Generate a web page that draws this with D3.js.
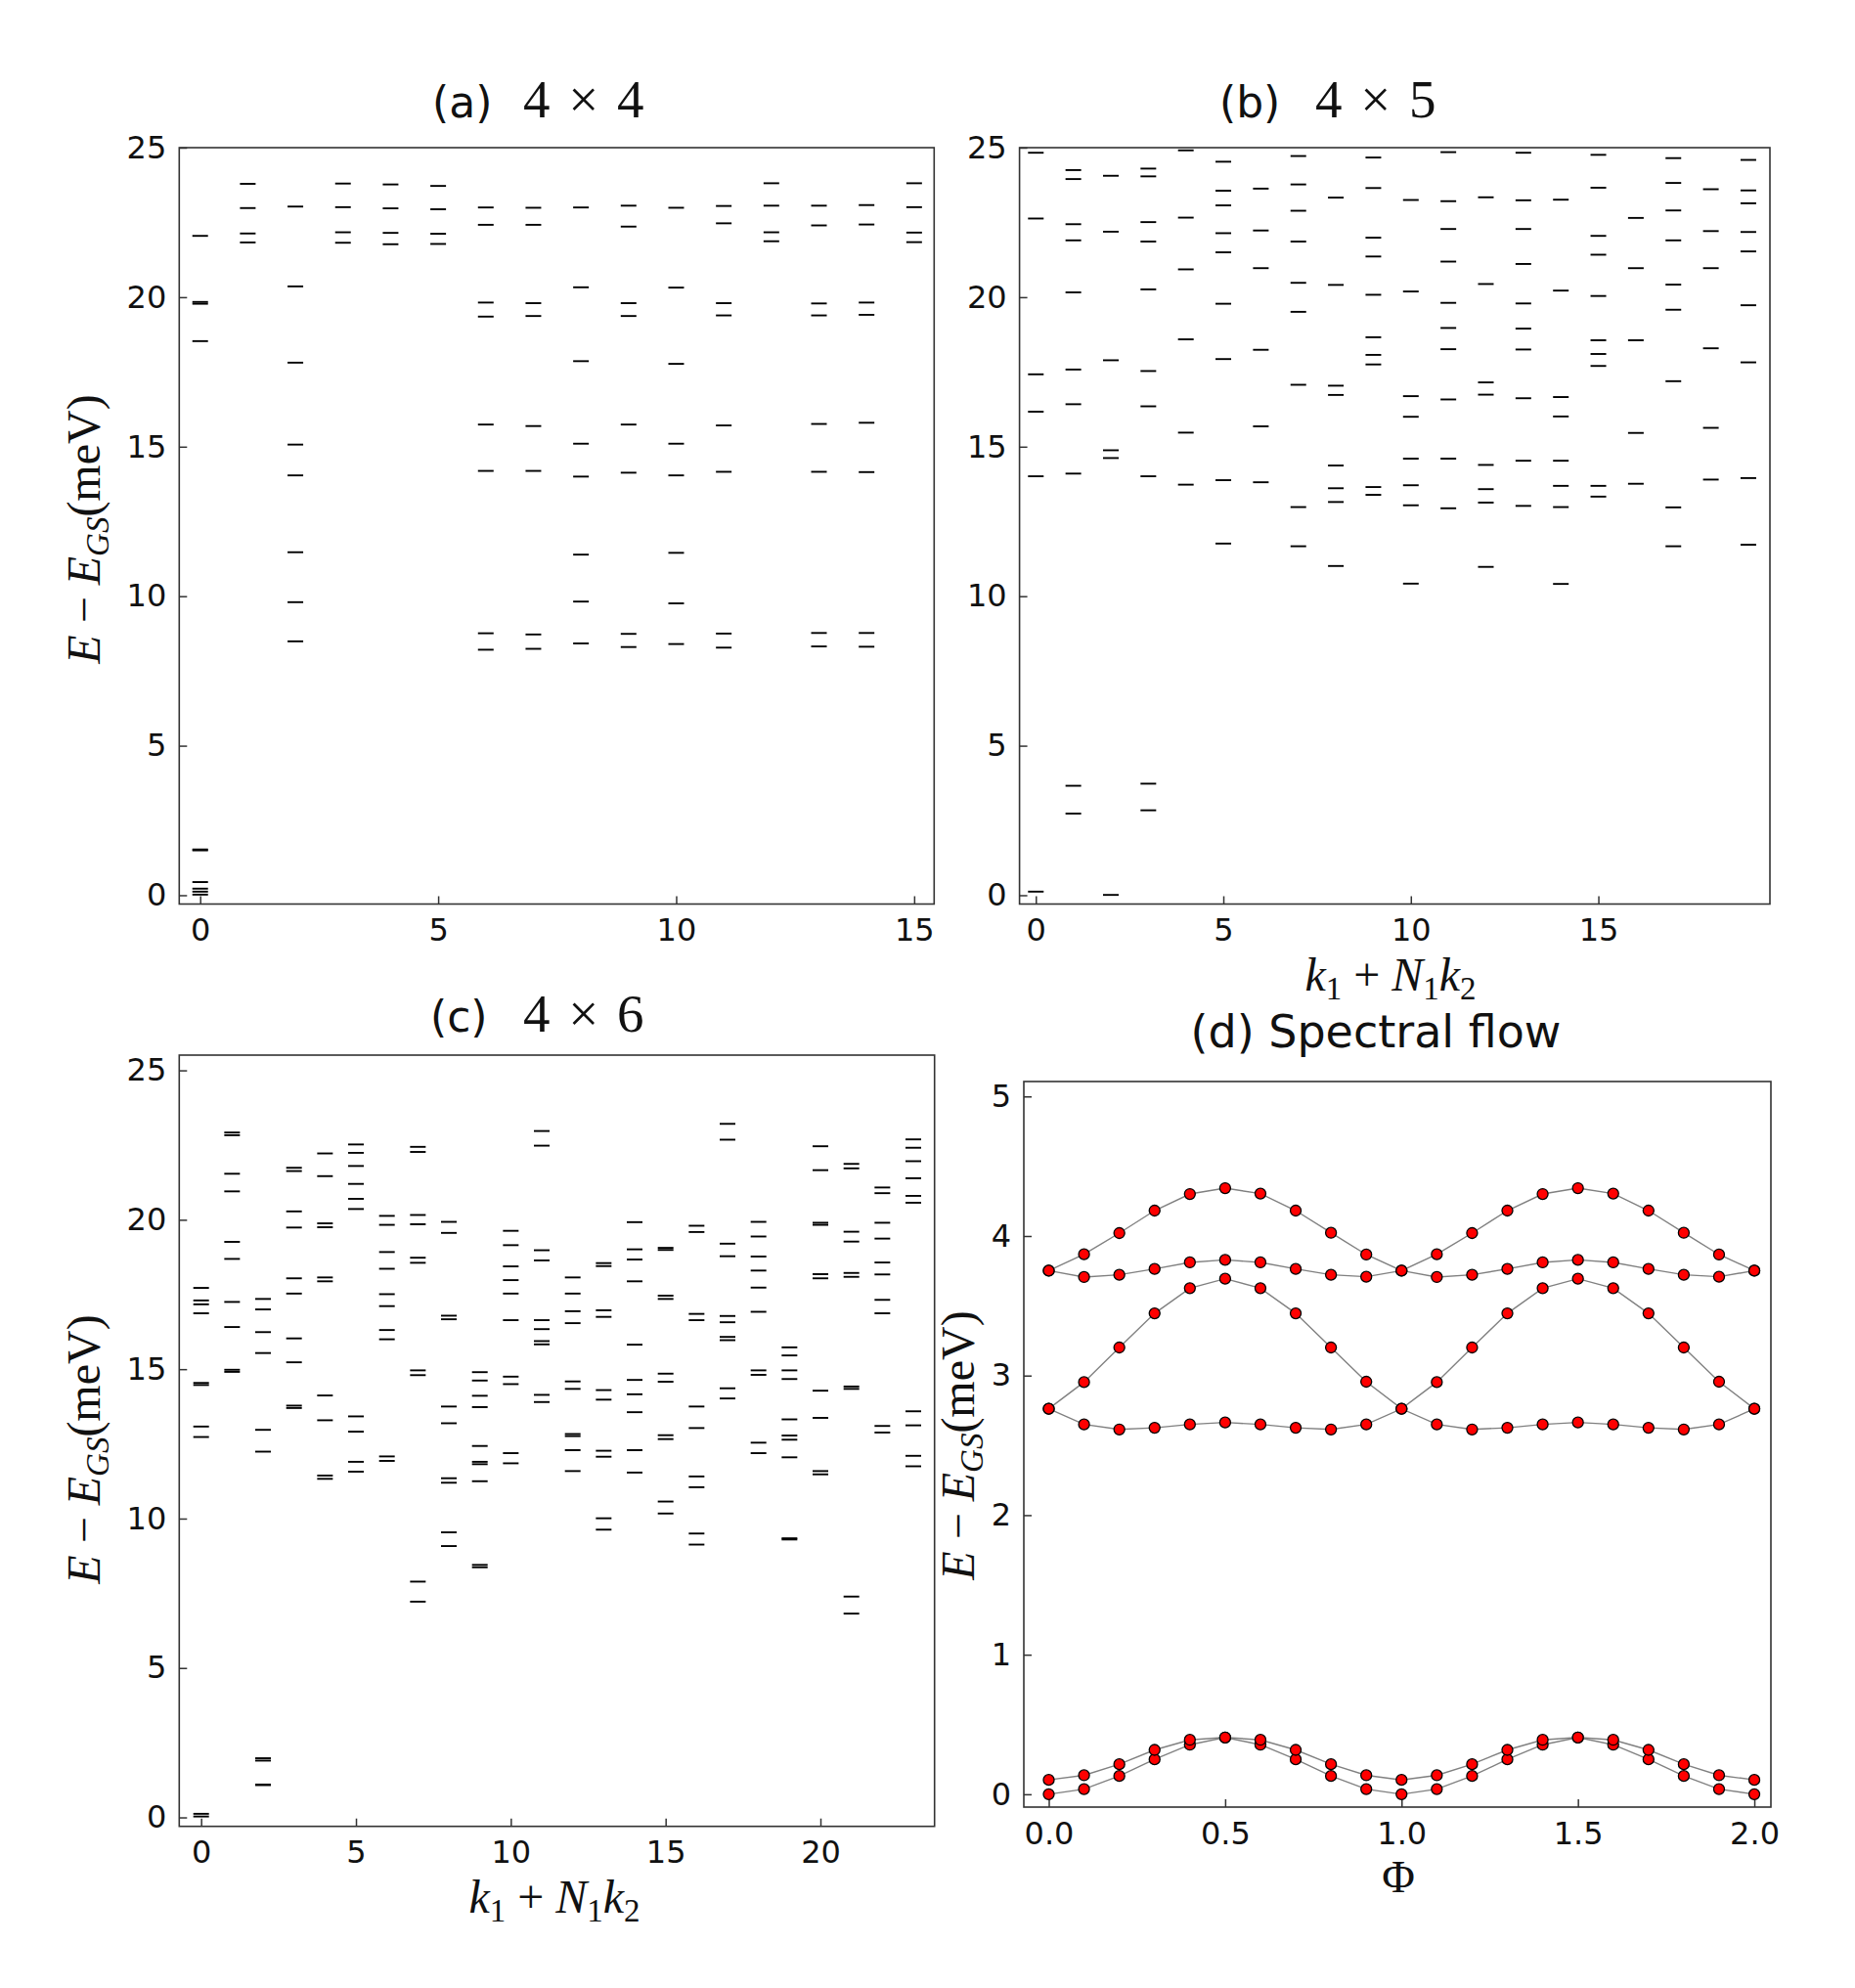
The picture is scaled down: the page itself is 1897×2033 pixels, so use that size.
<!DOCTYPE html>
<html><head><meta charset="utf-8">
<script src="https://cdn.jsdelivr.net/npm/d3@7"></script>
<style>body{margin:0;background:#fff} svg{display:block}</style>
</head><body>
<svg id="fig" width="1897" height="2033"></svg>
<script>
// ---------------- DATA ----------------
// (a) 4x4 : energy levels per momentum sector k = 0..15
const levelsA = [
  [0.02, 0.12, 0.22, 0.44, 1.50, 1.53, 18.53, 19.78, 19.84, 22.05],
  [21.83, 22.13, 22.98, 23.79],
  [8.49, 9.80, 11.47, 14.04, 15.07, 17.81, 20.36, 23.03],
  [21.82, 22.17, 23.01, 23.80],
  [21.77, 22.15, 22.97, 23.77],
  [21.78, 22.12, 22.94, 23.72],
  [8.21, 8.76, 14.19, 15.74, 19.35, 19.82, 22.42, 23.00],
  [8.24, 8.72, 14.19, 15.69, 19.37, 19.80, 22.42, 22.99],
  [8.42, 9.82, 11.39, 14.00, 15.10, 17.86, 20.33, 23.00],
  [8.30, 8.74, 14.13, 15.74, 19.37, 19.80, 22.36, 23.06],
  [8.40, 9.76, 11.45, 14.04, 15.10, 17.77, 20.32, 22.99],
  [8.28, 8.75, 14.16, 15.71, 19.39, 19.80, 22.47, 23.05],
  [21.87, 22.17, 23.06, 23.81],
  [8.32, 8.77, 14.16, 15.76, 19.39, 19.79, 22.40, 23.06],
  [8.31, 8.77, 14.15, 15.80, 19.41, 19.82, 22.43, 23.08],
  [21.84, 22.16, 23.01, 23.81]
];
// (b) 4x5 : k = 0..19
const levelsB = [
  [0.12, 14.01, 16.17, 17.42, 22.63, 24.83],
  [2.73, 3.66, 14.10, 16.42, 17.58, 20.16, 21.90, 22.44, 23.95, 24.25],
  [0.01, 14.62, 14.88, 17.89, 22.19, 24.06],
  [2.84, 3.73, 14.01, 16.35, 17.53, 20.26, 21.86, 22.51, 24.04, 24.30],
  [13.73, 15.47, 18.59, 20.93, 22.66, 24.91],
  [11.76, 13.88, 17.93, 19.78, 21.50, 22.14, 23.07, 23.56, 24.53],
  [13.81, 15.68, 18.24, 20.97, 22.23, 23.63],
  [11.67, 12.98, 17.07, 19.51, 20.48, 21.86, 22.89, 23.77, 24.72],
  [11.01, 13.15, 13.61, 14.37, 16.73, 17.04, 20.41, 23.33],
  [13.39, 13.65, 17.75, 18.07, 18.66, 20.08, 21.36, 21.99, 23.65, 24.67],
  [10.42, 13.04, 13.71, 14.60, 16.00, 16.69, 20.19, 23.25],
  [12.94, 14.60, 16.58, 18.26, 18.97, 19.81, 21.19, 22.28, 23.21, 24.85],
  [10.98, 13.13, 13.58, 14.39, 16.74, 17.15, 20.44, 23.34],
  [13.02, 14.53, 16.62, 18.25, 18.95, 19.79, 21.11, 22.28, 23.24, 24.83],
  [10.41, 12.98, 13.69, 14.53, 16.01, 16.66, 20.22, 23.26],
  [13.33, 13.69, 17.70, 18.10, 18.56, 20.04, 21.42, 22.05, 23.66, 24.76],
  [13.76, 15.46, 18.56, 20.97, 22.65],
  [11.67, 12.97, 17.19, 19.58, 20.42, 21.90, 22.90, 23.82, 24.65],
  [13.90, 15.63, 18.29, 20.97, 22.21, 23.61],
  [11.72, 13.95, 17.82, 19.73, 21.53, 22.18, 23.14, 23.57, 24.59]
];
// (c) 4x6 : k = 0..23
const levelsC = [
  [0.03, 0.12, 12.73, 13.08, 14.47, 14.54, 16.87, 17.17, 17.30, 17.72],
  [14.91, 14.98, 16.41, 17.25, 18.69, 19.26, 20.95, 21.54, 22.83, 22.92],
  [1.08, 1.10, 1.90, 1.98, 12.24, 12.97, 15.54, 16.24, 17.00, 17.35],
  [13.70, 13.78, 15.23, 16.03, 17.53, 18.04, 19.74, 20.28, 21.63, 21.74],
  [11.33, 11.44, 13.29, 14.12, 17.94, 18.07, 19.75, 19.88, 21.46, 22.22],
  [11.57, 11.90, 12.91, 13.42, 20.36, 20.70, 21.20, 21.80, 22.24, 22.52],
  [11.93, 12.08, 16.00, 16.31, 17.11, 17.51, 18.36, 18.92, 19.83, 20.13],
  [7.22, 7.89, 14.80, 14.96, 18.56, 18.73, 19.85, 20.16, 22.27, 22.44],
  [9.08, 9.54, 11.20, 11.35, 13.19, 13.75, 16.67, 16.79, 19.56, 19.93],
  [8.37, 8.45, 11.25, 11.82, 11.90, 12.43, 13.73, 14.11, 14.62, 14.90],
  [11.85, 12.19, 14.50, 14.75, 16.64, 17.53, 17.98, 18.44, 19.15, 19.63],
  [13.90, 14.14, 15.83, 15.94, 16.34, 16.64, 18.64, 18.98, 22.48, 22.97],
  [11.59, 12.29, 12.76, 12.83, 14.34, 14.59, 16.54, 16.94, 17.53, 18.07],
  [9.63, 10.01, 12.07, 12.27, 13.98, 14.30, 16.75, 16.97, 18.45, 18.55],
  [11.54, 12.29, 13.56, 14.16, 14.64, 15.82, 17.94, 18.67, 19.01, 19.92],
  [10.17, 10.57, 12.66, 12.79, 14.58, 14.85, 17.35, 17.46, 18.99, 19.06],
  [9.13, 9.50, 11.05, 11.41, 13.03, 13.75, 16.64, 16.85, 19.59, 19.80],
  [14.02, 14.36, 15.97, 16.08, 16.57, 16.78, 18.78, 19.20, 22.68, 23.21],
  [12.19, 12.54, 14.81, 14.96, 16.92, 17.73, 18.30, 18.77, 19.44, 19.93],
  [9.30, 9.34, 12.05, 12.64, 12.78, 13.32, 14.67, 14.96, 15.46, 15.73],
  [11.48, 11.59, 13.37, 14.28, 18.04, 18.18, 19.83, 19.90, 21.66, 22.46],
  [6.82, 7.39, 14.34, 14.42, 18.09, 18.22, 19.27, 19.60, 21.72, 21.87],
  [12.88, 13.10, 16.87, 17.32, 18.17, 18.57, 19.37, 19.90, 20.89, 21.08],
  [11.75, 12.10, 13.12, 13.59, 20.57, 20.80, 21.39, 21.96, 22.41, 22.69]
];
// (d) spectral flow
const phi = [0.0,0.1,0.2,0.3,0.4,0.5,0.6,0.7,0.8,0.9,1.0,1.1,1.2,1.3,1.4,1.5,1.6,1.7,1.8,1.9,2.0];
const band0 = [0,0.037,0.131,0.25,0.355,0.407,0.355,0.25,0.131,0.037,0,0.037,0.131,0.25,0.355,0.407,0.355,0.25,0.131,0.037,0];
const band1 = [0.103,0.136,0.215,0.318,0.39,0.407,0.39,0.318,0.215,0.136,0.103,0.136,0.215,0.318,0.39,0.407,0.39,0.318,0.215,0.136,0.103];
const band2 = [2.762,2.650,2.614,2.626,2.650,2.664,2.650,2.626,2.614,2.650,2.762,2.650,2.614,2.626,2.650,2.664,2.650,2.626,2.614,2.650,2.762];
const band3 = [2.762,2.953,3.201,3.446,3.626,3.694,3.626,3.446,3.201,2.956,2.762,2.953,3.201,3.446,3.626,3.694,3.626,3.446,3.201,2.956,2.762];
const band4 = [3.752,3.706,3.722,3.764,3.811,3.829,3.811,3.764,3.722,3.708,3.752,3.706,3.722,3.764,3.811,3.829,3.811,3.764,3.722,3.708,3.752];
const band5 = [3.752,3.869,4.021,4.182,4.301,4.343,4.304,4.182,4.023,3.867,3.752,3.869,4.021,4.182,4.301,4.343,4.304,4.182,4.023,3.867,3.752];

const ticksE = [0,5,10,15,20,25];
const ticksKa = [0,5,10,15];
const ticksKc = [0,5,10,15,20];
const ticksPhi = [0.0,0.5,1.0,1.5,2.0];
const ticksD = [0,1,2,3,4,5];

// ---------------- DRAW ----------------
const svg = d3.select('#fig');
svg.append('rect').attr('width',1897).attr('height',2033).attr('fill','#fff');
const SANS = "'DejaVu Sans','Noto Sans',sans-serif";
const SERIF = "'Liberation Serif','DejaVu Serif',serif";
const FRAME = '#333';

function panel(cfg){
  const x = d3.scaleLinear().domain(cfg.xdom).range([cfg.L, cfg.R]);
  const y = d3.scaleLinear().domain(cfg.ydom).range([cfg.B, cfg.T]);
  const g = svg.append('g');
  const ax = d3.axisBottom(x).tickValues(cfg.xticks).tickSize(-8).tickPadding(15)
     .tickFormat(cfg.xfmt || d3.format('d'));
  const ay = d3.axisLeft(y).tickValues(cfg.yticks).tickSize(-8).tickPadding(13)
     .tickFormat(d3.format('d'));
  const gx = g.append('g').attr('transform',`translate(0,${cfg.B})`).call(ax);
  const gy = g.append('g').attr('transform',`translate(${cfg.L},0)`).call(ay);
  [gx,gy].forEach(s=>{
    s.select('.domain').remove();
    s.selectAll('.tick line').attr('stroke',FRAME).attr('stroke-width',1.5);
    s.selectAll('.tick text').attr('font-family',SANS).attr('font-size',32).attr('fill','#111');
  });
  return {g,x,y};
}
function frame(cfg){
  svg.append('rect').attr('x',cfg.L).attr('y',cfg.T).attr('width',cfg.R-cfg.L).attr('height',cfg.B-cfg.T)
    .attr('fill','none').attr('stroke',FRAME).attr('stroke-width',1.6);
}
function drawLevels(p, levels){
  levels.forEach((arr,k)=>{
    p.g.selectAll(null).data(arr).enter().append('line')
      .attr('x1',p.x(k)-8).attr('x2',p.x(k)+8)
      .attr('y1',d=>p.y(d)).attr('y2',d=>p.y(d))
      .attr('stroke','#000').attr('stroke-width',1.9);
  });
}

const cfgA = {L:183.3,R:955.3,T:151,B:924.5,xdom:[-0.44,15.42],ydom:[-0.295,25],xticks:ticksKa,yticks:ticksE};
const cfgB = {L:1042.6,R:1810,T:151,B:924.5,xdom:[-0.435,19.575],ydom:[-0.295,25],xticks:ticksKa,yticks:ticksE};
const cfgC = {L:183.3,R:955.7,T:1079,B:1867.7,xdom:[-0.707,23.685],ydom:[-0.30,25.51],xticks:ticksKc,yticks:ticksE};
const cfgD = {L:1047,R:1811,T:1106,B:1848,xdom:[-0.0707,2.047],ydom:[-0.092,5.107],xticks:ticksPhi,yticks:ticksD,xfmt:d3.format('.1f')};

const pA = panel(cfgA); drawLevels(pA, levelsA); frame(cfgA);
const pB = panel(cfgB); drawLevels(pB, levelsB); frame(cfgB);
const pC = panel(cfgC); drawLevels(pC, levelsC); frame(cfgC);
const pD = panel(cfgD);
[band0,band1,band2,band3,band4,band5].forEach(b=>{
  const pts = phi.map((f,i)=>[f,b[i]]);
  pD.g.append('path').datum(pts)
    .attr('d', d3.line().x(d=>pD.x(d[0])).y(d=>pD.y(d[1])))
    .attr('fill','none').attr('stroke','#808080').attr('stroke-width',1.4);
  pD.g.selectAll(null).data(pts).enter().append('circle')
    .attr('cx',d=>pD.x(d[0])).attr('cy',d=>pD.y(d[1])).attr('r',5.5)
    .attr('fill','#ff0000').attr('stroke','#000').attr('stroke-width',1.3);
});
frame(cfgD);

// ---------------- TEXT ----------------
function title(x, y, tag, mx, math){
  svg.append('text').attr('x',x).attr('y',y).attr('fill','#111')
    .attr('font-family',SANS).attr('font-size',44).text(tag);
  svg.append('text').attr('x',mx).attr('y',y).attr('fill','#111')
    .attr('font-family',SERIF).attr('font-size',55).attr('word-spacing',5).text(math);
}
title(442,120,'(a)',535,'4 × 4');
title(1247,120,'(b)',1345,'4 × 5');
title(440,1055,'(c)',535,'4 × 6');
svg.append('text').attr('x',1407).attr('y',1071).attr('text-anchor','middle')
  .attr('font-family',SANS).attr('font-size',46).attr('fill','#111').text('(d) Spectral flow');

function ylabel(cx, cy){
  const t = svg.append('text').attr('transform',`translate(${cx},${cy}) rotate(-90)`)
    .attr('text-anchor','middle').attr('font-family',SERIF).attr('font-size',48).attr('fill','#111');
  t.append('tspan').attr('font-style','italic').text('E');
  t.append('tspan').text(' − ');
  t.append('tspan').attr('font-style','italic').text('E');
  t.append('tspan').attr('font-style','italic').attr('font-size',33).attr('dy',9).text('GS');
  t.append('tspan').attr('dy',-9).text('(meV)');
}
ylabel(102,541); ylabel(102,1482); ylabel(996,1478);

function klabel(cx, cy){
  const t = svg.append('text').attr('x',cx).attr('y',cy).attr('text-anchor','middle')
    .attr('font-family',SERIF).attr('font-size',48).attr('fill','#111');
  t.append('tspan').attr('font-style','italic').text('k');
  t.append('tspan').attr('font-size',33).attr('dy',9).text('1');
  t.append('tspan').attr('dy',-9).text(' + ');
  t.append('tspan').attr('font-style','italic').text('N');
  t.append('tspan').attr('font-size',33).attr('dy',9).text('1');
  t.append('tspan').attr('dy',-9).attr('font-style','italic').text('k');
  t.append('tspan').attr('font-size',33).attr('dy',9).text('2');
}
klabel(1422,1013); klabel(567,1956);
svg.append('text').attr('x',1430).attr('y',1935).attr('text-anchor','middle')
  .attr('font-family',SERIF).attr('font-size',46).attr('fill','#111').text('Φ');
</script>
</body></html>
